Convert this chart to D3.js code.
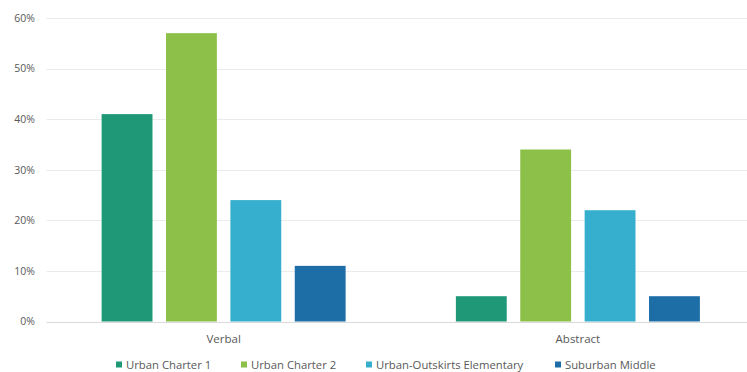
<!DOCTYPE html>
<html lang="en">
  <head>
    <meta charset="UTF-8" />
    <title>Verbal vs Abstract</title>
    <script src="https://cdn.jsdelivr.net/npm/d3@7"></script>
    <style>
      body { margin: 0; background: #fff; }
      text { font-family: "Open Sans", "Liberation Sans", sans-serif; fill: #595959; }
    </style>
  </head>
  <body>
    <script>
      const categories = ["Verbal", "Abstract"];
      const seriesNames = ["Urban Charter 1", "Urban Charter 2", "Urban-Outskirts Elementary", "Suburban Middle"];
      const verbal = [0.41, 0.57, 0.24, 0.11];
      const abstract = [0.05, 0.34, 0.22, 0.05];
      const yTicks = [0, 0.1, 0.2, 0.3, 0.4, 0.5, 0.6];
      const colors = ["#1e9876", "#8cc048", "#36afce", "#1d6ea7"];

      const width = 747;
      const height = 372;
      const values = [verbal, abstract];

      const svg = d3.select("body").append("svg")
        .attr("width", width)
        .attr("height", height);

      const y = d3.scaleLinear().domain([0, 0.6]).range([321.5, 18]);
      const x0 = d3.scaleBand().domain(categories).range([46.5, 755]).padding(0);
      const x1 = d3.scaleBand().domain(seriesNames)
        .range([(x0.bandwidth() - 244) / 2, (x0.bandwidth() + 244) / 2])
        .paddingInner(0.21).paddingOuter(0);

      // gridlines
      svg.append("g")
        .selectAll("line")
        .data(yTicks)
        .join("line")
        .attr("x1", 46.5)
        .attr("x2", width)
        .attr("y1", d => Math.round(y(d)) + 0.5)
        .attr("y2", d => Math.round(y(d)) + 0.5)
        .attr("stroke", d => d === 0 ? "#d9d9d9" : "#ebebeb")
        .attr("stroke-width", 1);

      // y axis labels
      const yAxis = d3.axisLeft(y).tickValues(yTicks).tickFormat(d3.format(".0%")).tickSize(0).tickPadding(0);
      svg.append("g")
        .attr("transform", "translate(35,0)")
        .call(yAxis)
        .call(g => g.select(".domain").remove())
        .selectAll("text")
        .style("font-size", "10.5px")
        .attr("fill", "#595959");

      // bars
      svg.append("g")
        .selectAll("g")
        .data(categories)
        .join("g")
        .attr("transform", d => `translate(${x0(d)},0)`)
        .selectAll("rect")
        .data((d, i) => values[i].map((v, j) => ({ name: seriesNames[j], v, c: colors[j] })))
        .join("rect")
        .attr("x", d => x1(d.name))
        .attr("width", x1.bandwidth())
        .attr("y", d => y(d.v))
        .attr("height", d => y(0) - y(d.v))
        .attr("fill", d => d.c);

      // category labels
      svg.append("g")
        .selectAll("text")
        .data(categories)
        .join("text")
        .attr("x", d => x0(d) + x0.bandwidth() / 2)
        .attr("y", 342.5)
        .attr("text-anchor", "middle")
        .style("font-size", "11.5px")
        .text(d => d);

      // legend
      const legendX = [116, 241, 366, 555];
      const legend = svg.append("g")
        .selectAll("g")
        .data(seriesNames)
        .join("g")
        .attr("transform", (d, i) => `translate(${legendX[i]},361.5)`);
      legend.append("rect")
        .attr("width", 6)
        .attr("height", 6)
        .attr("y", 0)
        .attr("fill", (d, i) => colors[i]);
      legend.append("text")
        .attr("x", 10)
        .attr("y", 7)
        .style("font-size", "11.3px")
        .text(d => d);
    </script>
  </body>
</html>
